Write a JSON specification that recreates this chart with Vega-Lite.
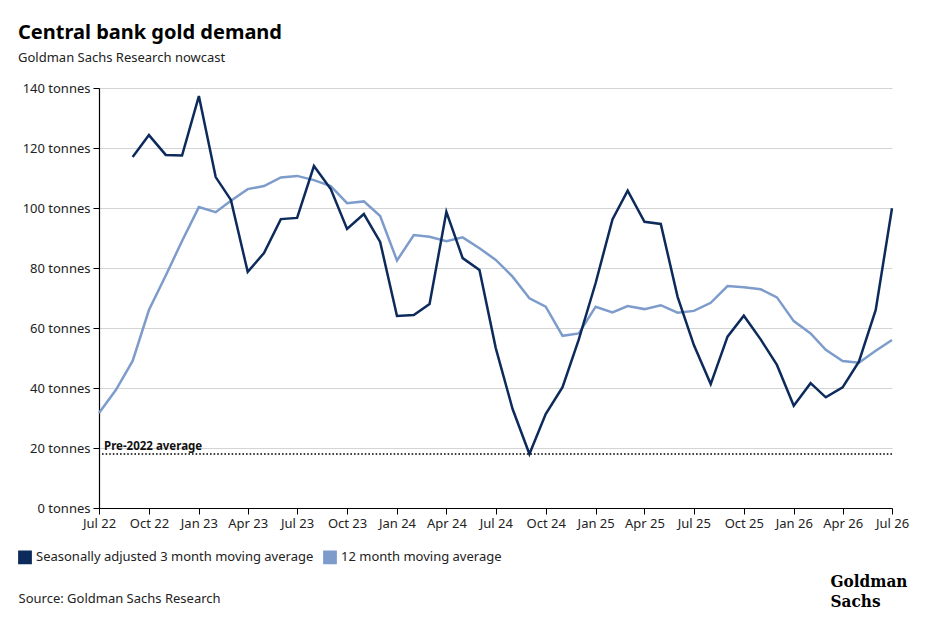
{
  "$schema": "https://vega.github.io/schema/vega-lite/v6.json",
  "width": 793,
  "height": 420,
  "autosize": "none",
  "padding": {"left": 99, "top": 88, "right": 45, "bottom": 126},
  "background": "white",
  "config": {
    "font": "Noto Sans",
    "view": {"stroke": null}
  },
  "title": {
    "text": "Central bank gold demand",
    "subtitle": "Goldman Sachs Research nowcast",
    "anchor": "start",
    "frame": "group",
    "dx": -81,
    "offset": 17,
    "font": "Noto Sans",
    "fontSize": 20,
    "fontWeight": "bold",
    "color": "#000000",
    "subtitleFont": "Noto Sans",
    "subtitleFontSize": 13,
    "subtitleColor": "#222222",
    "subtitlePadding": 9
  },
  "datasets": {
    "demand": [
      {"date": "2022-07-01", "series": "12 month moving average", "value": 31.7},
      {"date": "2022-08-01", "series": "12 month moving average", "value": 39.3},
      {"date": "2022-09-01", "series": "12 month moving average", "value": 49.0},
      {"date": "2022-10-01", "series": "12 month moving average", "value": 66.0},
      {"date": "2022-11-01", "series": "12 month moving average", "value": 77.5},
      {"date": "2022-12-01", "series": "12 month moving average", "value": 89.0},
      {"date": "2023-01-01", "series": "12 month moving average", "value": 100.3},
      {"date": "2023-02-01", "series": "12 month moving average", "value": 98.6},
      {"date": "2023-03-01", "series": "12 month moving average", "value": 102.4},
      {"date": "2023-04-01", "series": "12 month moving average", "value": 106.3},
      {"date": "2023-05-01", "series": "12 month moving average", "value": 107.3},
      {"date": "2023-06-01", "series": "12 month moving average", "value": 110.2},
      {"date": "2023-07-01", "series": "12 month moving average", "value": 110.7},
      {"date": "2023-08-01", "series": "12 month moving average", "value": 109.3},
      {"date": "2023-09-01", "series": "12 month moving average", "value": 107.3},
      {"date": "2023-10-01", "series": "12 month moving average", "value": 101.6},
      {"date": "2023-11-01", "series": "12 month moving average", "value": 102.2},
      {"date": "2023-12-01", "series": "12 month moving average", "value": 97.3},
      {"date": "2024-01-01", "series": "12 month moving average", "value": 82.5},
      {"date": "2024-02-01", "series": "12 month moving average", "value": 91.0},
      {"date": "2024-03-01", "series": "12 month moving average", "value": 90.4},
      {"date": "2024-04-01", "series": "12 month moving average", "value": 88.9},
      {"date": "2024-05-01", "series": "12 month moving average", "value": 90.2},
      {"date": "2024-06-01", "series": "12 month moving average", "value": 86.6},
      {"date": "2024-07-01", "series": "12 month moving average", "value": 82.7},
      {"date": "2024-08-01", "series": "12 month moving average", "value": 77.1},
      {"date": "2024-09-01", "series": "12 month moving average", "value": 69.9},
      {"date": "2024-10-01", "series": "12 month moving average", "value": 67.1},
      {"date": "2024-11-01", "series": "12 month moving average", "value": 57.4},
      {"date": "2024-12-01", "series": "12 month moving average", "value": 58.2},
      {"date": "2025-01-01", "series": "12 month moving average", "value": 67.1},
      {"date": "2025-02-01", "series": "12 month moving average", "value": 65.2},
      {"date": "2025-03-01", "series": "12 month moving average", "value": 67.3},
      {"date": "2025-04-01", "series": "12 month moving average", "value": 66.3},
      {"date": "2025-05-01", "series": "12 month moving average", "value": 67.6},
      {"date": "2025-06-01", "series": "12 month moving average", "value": 65.1},
      {"date": "2025-07-01", "series": "12 month moving average", "value": 65.7},
      {"date": "2025-08-01", "series": "12 month moving average", "value": 68.4},
      {"date": "2025-09-01", "series": "12 month moving average", "value": 74.0},
      {"date": "2025-10-01", "series": "12 month moving average", "value": 73.6},
      {"date": "2025-11-01", "series": "12 month moving average", "value": 72.9},
      {"date": "2025-12-01", "series": "12 month moving average", "value": 70.2},
      {"date": "2026-01-01", "series": "12 month moving average", "value": 62.3},
      {"date": "2026-02-01", "series": "12 month moving average", "value": 58.2},
      {"date": "2026-03-01", "series": "12 month moving average", "value": 52.7},
      {"date": "2026-04-01", "series": "12 month moving average", "value": 49.0},
      {"date": "2026-05-01", "series": "12 month moving average", "value": 48.4},
      {"date": "2026-06-01", "series": "12 month moving average", "value": 52.4},
      {"date": "2026-07-01", "series": "12 month moving average", "value": 56.0},
      {"date": "2022-09-01", "series": "Seasonally adjusted 3 month moving average", "value": 117.0},
      {"date": "2022-10-01", "series": "Seasonally adjusted 3 month moving average", "value": 124.3},
      {"date": "2022-11-01", "series": "Seasonally adjusted 3 month moving average", "value": 117.7},
      {"date": "2022-12-01", "series": "Seasonally adjusted 3 month moving average", "value": 117.5},
      {"date": "2023-01-01", "series": "Seasonally adjusted 3 month moving average", "value": 137.3},
      {"date": "2023-02-01", "series": "Seasonally adjusted 3 month moving average", "value": 110.3},
      {"date": "2023-03-01", "series": "Seasonally adjusted 3 month moving average", "value": 102.7},
      {"date": "2023-04-01", "series": "Seasonally adjusted 3 month moving average", "value": 78.7},
      {"date": "2023-05-01", "series": "Seasonally adjusted 3 month moving average", "value": 85.0},
      {"date": "2023-06-01", "series": "Seasonally adjusted 3 month moving average", "value": 96.3},
      {"date": "2023-07-01", "series": "Seasonally adjusted 3 month moving average", "value": 96.7},
      {"date": "2023-08-01", "series": "Seasonally adjusted 3 month moving average", "value": 114.0},
      {"date": "2023-09-01", "series": "Seasonally adjusted 3 month moving average", "value": 106.3},
      {"date": "2023-10-01", "series": "Seasonally adjusted 3 month moving average", "value": 93.0},
      {"date": "2023-11-01", "series": "Seasonally adjusted 3 month moving average", "value": 98.0},
      {"date": "2023-12-01", "series": "Seasonally adjusted 3 month moving average", "value": 88.7},
      {"date": "2024-01-01", "series": "Seasonally adjusted 3 month moving average", "value": 64.0},
      {"date": "2024-02-01", "series": "Seasonally adjusted 3 month moving average", "value": 64.3},
      {"date": "2024-03-01", "series": "Seasonally adjusted 3 month moving average", "value": 68.0},
      {"date": "2024-04-01", "series": "Seasonally adjusted 3 month moving average", "value": 98.7},
      {"date": "2024-05-01", "series": "Seasonally adjusted 3 month moving average", "value": 83.3},
      {"date": "2024-06-01", "series": "Seasonally adjusted 3 month moving average", "value": 79.3},
      {"date": "2024-07-01", "series": "Seasonally adjusted 3 month moving average", "value": 53.3},
      {"date": "2024-08-01", "series": "Seasonally adjusted 3 month moving average", "value": 33.0},
      {"date": "2024-09-01", "series": "Seasonally adjusted 3 month moving average", "value": 18.0},
      {"date": "2024-10-01", "series": "Seasonally adjusted 3 month moving average", "value": 31.3},
      {"date": "2024-11-01", "series": "Seasonally adjusted 3 month moving average", "value": 40.3},
      {"date": "2024-12-01", "series": "Seasonally adjusted 3 month moving average", "value": 56.2},
      {"date": "2025-01-01", "series": "Seasonally adjusted 3 month moving average", "value": 75.0},
      {"date": "2025-02-01", "series": "Seasonally adjusted 3 month moving average", "value": 96.2},
      {"date": "2025-03-01", "series": "Seasonally adjusted 3 month moving average", "value": 105.8},
      {"date": "2025-04-01", "series": "Seasonally adjusted 3 month moving average", "value": 95.4},
      {"date": "2025-05-01", "series": "Seasonally adjusted 3 month moving average", "value": 94.7},
      {"date": "2025-06-01", "series": "Seasonally adjusted 3 month moving average", "value": 70.4},
      {"date": "2025-07-01", "series": "Seasonally adjusted 3 month moving average", "value": 54.3},
      {"date": "2025-08-01", "series": "Seasonally adjusted 3 month moving average", "value": 41.3},
      {"date": "2025-09-01", "series": "Seasonally adjusted 3 month moving average", "value": 57.1},
      {"date": "2025-10-01", "series": "Seasonally adjusted 3 month moving average", "value": 64.1},
      {"date": "2025-11-01", "series": "Seasonally adjusted 3 month moving average", "value": 56.2},
      {"date": "2025-12-01", "series": "Seasonally adjusted 3 month moving average", "value": 47.7},
      {"date": "2026-01-01", "series": "Seasonally adjusted 3 month moving average", "value": 34.1},
      {"date": "2026-02-01", "series": "Seasonally adjusted 3 month moving average", "value": 41.6},
      {"date": "2026-03-01", "series": "Seasonally adjusted 3 month moving average", "value": 36.9},
      {"date": "2026-04-01", "series": "Seasonally adjusted 3 month moving average", "value": 40.2},
      {"date": "2026-05-01", "series": "Seasonally adjusted 3 month moving average", "value": 48.8},
      {"date": "2026-06-01", "series": "Seasonally adjusted 3 month moving average", "value": 66.0},
      {"date": "2026-07-01", "series": "Seasonally adjusted 3 month moving average", "value": 99.9}
    ],
    "reference": [
      {"label": "Pre-2022 average", "start": "2022-07-01", "value": 18}
    ]
  },
  "layer": [
    {
      "data": {"name": "demand"},
      "mark": {"type": "line", "strokeWidth": 2.5, "strokeJoin": "miter"},
      "encoding": {
        "x": {
          "field": "date",
          "type": "temporal",
          "scale": {
            "type": "utc",
            "domain": [
              {"year": 2022, "month": 7, "date": 1, "utc": true},
              {"year": 2026, "month": 7, "date": 1, "utc": true}
            ]
          },
          "axis": {
            "title": "Source: Goldman Sachs Research",
            "titleAnchor": "start",
            "titleAlign": "left",
            "titleX": -81,
            "titleY": 90,
            "titleBaseline": "middle",
            "titleFontSize": 13,
            "titleFontWeight": "normal",
            "titleColor": "#222222",
            "tickCount": {"interval": "month", "step": 3},
            "labelExpr": "utcFormat(datum.value, '%b %y')",
            "labelFontSize": 13,
            "labelColor": "#222222",
            "labelPadding": 3,
            "labelFlush": false,
            "labelOverlap": false,
            "domainColor": "#000000",
            "domainWidth": 1.2,
            "tickColor": "#000000",
            "tickSize": 6,
            "grid": false
          }
        },
        "y": {
          "field": "value",
          "type": "quantitative",
          "scale": {"domain": [0, 140], "nice": false},
          "axis": {
            "title": ["Goldman", "Sachs"],
            "titleAngle": 0,
            "titleX": 731,
            "titleY": 485,
            "titleAlign": "left",
            "titleBaseline": "top",
            "titleFont": "DejaVu Serif Condensed",
            "titleFontSize": 17,
            "titleFontWeight": "bold",
            "titleLineHeight": 20,
            "titleColor": "#000000",
            "values": [0, 20, 40, 60, 80, 100, 120, 140],
            "labelExpr": "datum.value + ' tonnes'",
            "labelFontSize": 13,
            "labelColor": "#222222",
            "labelPadding": 3,
            "domainColor": "#000000",
            "domainWidth": 1.2,
            "tickColor": "#000000",
            "tickSize": 6,
            "gridColor": "#d4d4d4",
            "gridWidth": 1
          }
        },
        "color": {
          "field": "series",
          "type": "nominal",
          "scale": {
            "domain": ["Seasonally adjusted 3 month moving average", "12 month moving average"],
            "range": ["#0c2a5b", "#7d9ccb"]
          },
          "legend": {
            "title": null,
            "orient": "none",
            "legendX": -81,
            "legendY": 462,
            "direction": "horizontal",
            "symbolType": "square",
            "symbolSize": 150,
            "labelFontSize": 13,
            "labelColor": "#222222",
            "labelLimit": 0,
            "labelOffset": 4,
            "columnPadding": 6,
            "encode": {
              "symbols": {
                "update": {
                  "fill": {"scale": "color", "field": "value"},
                  "stroke": {"value": "transparent"}
                }
              }
            }
          }
        }
      }
    },
    {
      "data": {"name": "reference"},
      "mark": {"type": "rule", "color": "#000000", "strokeWidth": 1.6, "strokeDash": [1.6, 2]},
      "encoding": {"y": {"field": "value", "type": "quantitative"}}
    },
    {
      "data": {"name": "reference"},
      "mark": {"type": "text", "align": "left", "baseline": "bottom", "dx": 5, "dy": -2, "fontSize": 11.5, "fontWeight": "bold", "color": "#111111"},
      "encoding": {
        "x": {"field": "start", "type": "temporal"},
        "y": {"field": "value", "type": "quantitative"},
        "text": {"field": "label"}
      }
    }
  ]
}
